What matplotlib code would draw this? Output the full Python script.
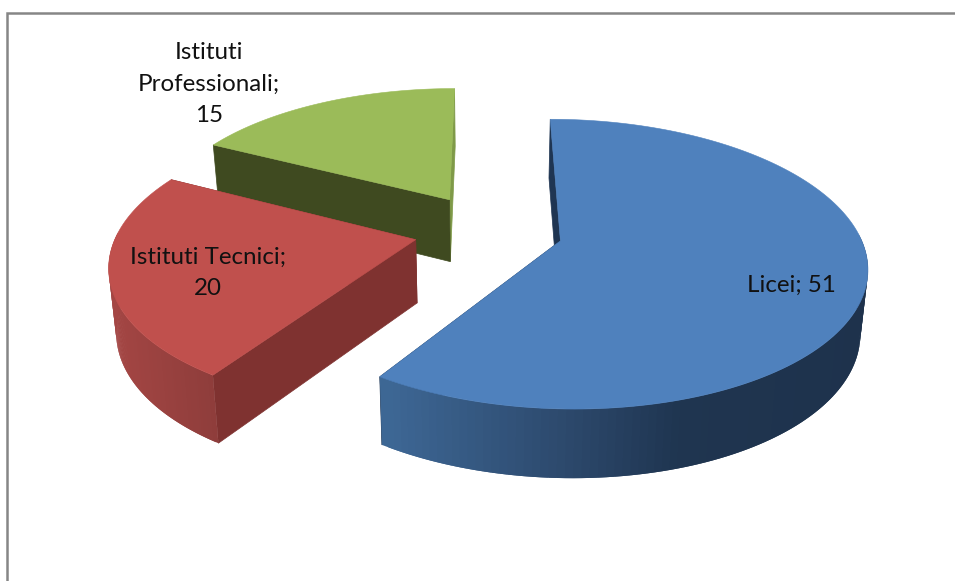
import numpy as np
import matplotlib
matplotlib.use("Agg")
import matplotlib.pyplot as plt
from matplotlib.colors import to_rgb

categories = ["Licei", "Istituti Tecnici", "Istituti Professionali"]
values = [51, 20, 15]

# label text is wrapped by hand like in the original
label_text = ["Licei; 51", "Istituti Tecnici;\n20", "Istituti\nProfessionali;\n15"]
label_xy = [(791, 285), (208, 273), (209, 84)]

top_colors = ["#4f81bd", "#c0504d", "#9bbb59"]
# start radial face, end radial face
start_face = ["#1f3552", "#7f3230", "#3f4a20"]
end_face = ["#1f3552", "#7f3230", "#7f9a48"]
# outer wall shading, by screen x
wall_x = [[382, 560, 680, 870], [105, 215], [0, 955]]
wall_col = [["#3e6896", "#2d4a6e", "#1f3550", "#1e324c"],
            ["#a54644", "#8e3d3b"],
            ["#3f4a20", "#3f4a20"]]

# projection of the pie plane on to the screen (pixels)
CX, CY = 487.0, 231.0
SCALE_X, SCALE_Y = 298.0, 138.0
PERSP = 0.159
EXPLODE = [0.245, 0.245, 0.275]
NUDGE_U = [0.009, 0.0, 0.013]
DEPTH = 63.0
BOTTOM_SHRINK = 0.98


def project(u, v, bottom=False):
    w = 1.0 - PERSP * v
    x = SCALE_X * u / w
    y = SCALE_Y * v / w
    if bottom:
        x = x * BOTTOM_SHRINK
        y = y + DEPTH / np.sqrt(w)
    return CX + x, CY + y


def wall_color(x, i):
    stops = np.array([to_rgb(c) for c in wall_col[i]])
    return [np.interp(x, wall_x[i], stops[:, k]) for k in range(3)]


def draw_slice(ax, a0, a1, i):
    # angles clockwise from 12 o'clock, v grows towards the viewer
    mid = 0.5 * (a0 + a1)
    ou = EXPLODE[i] * np.sin(mid) + NUDGE_U[i]
    ov = -EXPLODE[i] * np.cos(mid)
    t = np.linspace(a0, a1, 160)
    u, v = ou + np.sin(t), ov - np.cos(t)

    tx, ty = project(u, v)
    bx, by = project(u, v, bottom=True)
    ax0, ay0 = project(ou, ov)
    bx0, by0 = project(ou, ov, bottom=True)

    # radial faces first, the wall and top go over them
    ax.fill([ax0, tx[-1], bx[-1], bx0], [ay0, ty[-1], by[-1], by0],
            color=end_face[i], lw=0.5, zorder=2)
    ax.fill([ax0, tx[0], bx[0], bx0], [ay0, ty[0], by[0], by0],
            color=start_face[i], lw=0.5, zorder=2)

    # only the front part of the wall can be seen
    front = np.where(np.cos(t) < 0.06)[0]
    for k in front[:-2]:
        col = wall_color(0.5 * (tx[k] + tx[k + 1]), i)
        # one step of overlap so the seams do not show
        ax.fill([tx[k], tx[k + 2], bx[k + 2], bx[k]],
                [ty[k], ty[k + 2], by[k + 2], by[k]],
                facecolor=col, edgecolor="none", zorder=2)

    ax.fill(np.r_[ax0, tx], np.r_[ay0, ty], color=top_colors[i], lw=0.4, zorder=2)


fig = plt.figure(figsize=(9.55, 5.81), dpi=100)
ax = fig.add_axes([0, 0, 1, 1])
ax.set_xlim(0, 955)
ax.set_ylim(581, 0)
ax.axis("off")

# chart area frame, cropped at right and bottom
ax.plot([7, 7, 955], [581, 13, 13], color="#868686", lw=1.8, zorder=1,
        solid_joinstyle="miter")

angles = np.r_[0, np.cumsum(values)] / np.sum(values) * 2 * np.pi

# back to front
for i in [2, 1, 0]:
    draw_slice(ax, angles[i], angles[i + 1], i)

for txt, (x, y) in zip(label_text, label_xy):
    ax.text(x, y, txt, ha="center", va="center", family="Lato", fontsize=17.4,
            color="#111111", linespacing=1.6, zorder=3)

fig.savefig("out.png", dpi=100, facecolor="white")
